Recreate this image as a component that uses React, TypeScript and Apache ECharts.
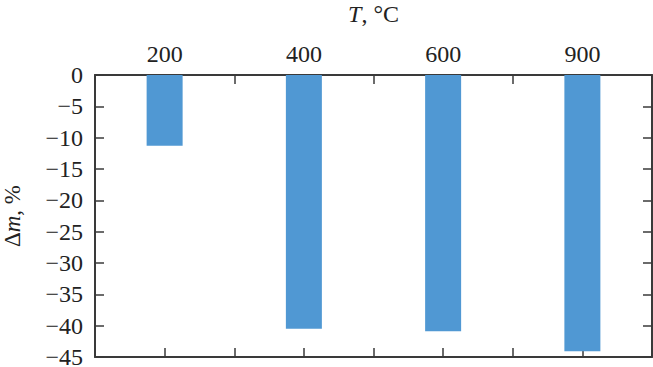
import React, { useEffect, useRef } from "react";
import * as echarts from "echarts";

const categories = ["200", "400", "600", "900"];
const massLoss = [-11.3, -40.5, -40.9, -44.1];
const yMin = -45;
const yMax = 0;
const yStep = 5;

const AXIS_COLOR = "#3a3a3a";
const FONT = "Times New Roman, Liberation Serif, serif";

export default function App() {
  const ref = useRef<HTMLDivElement>(null);
  useEffect(() => {
    if (!ref.current) return;
    const chart = echarts.init(ref.current, null, { renderer: "svg" });
    const lineStyle = { color: AXIS_COLOR, width: 2 };
    const tickStyle = { color: AXIS_COLOR, width: 1.5 };
    const catAxis = (position: string, align: boolean, showLabel: boolean, showLine: boolean, extra: any = {}) => ({
      type: "category",
      data: categories,
      position,
      boundaryGap: true,
      axisLine: { show: showLine, lineStyle },
      axisTick: { show: true, inside: true, length: 9, alignWithLabel: align, lineStyle: tickStyle },
      axisLabel: {
        show: showLabel,
        color: "#222",
        fontFamily: FONT,
        fontSize: 24,
        margin: 9,
      },
      splitLine: { show: false },
      ...extra,
    });
    const valAxis = (position: string, showLabel: boolean, extra: any = {}) => ({
      type: "value",
      position,
      min: yMin,
      max: yMax,
      interval: yStep,
      axisLine: { show: true, lineStyle },
      axisTick: { show: true, inside: true, length: 9, lineStyle: tickStyle },
      axisLabel: {
        show: showLabel,
        color: "#222",
        fontFamily: FONT,
        fontSize: 24,
        lineHeight: 18,
        margin: 12,
        formatter: (v: number) => (v < 0 ? "\u2212" + Math.abs(v) : String(v)),
      },
      splitLine: { show: false },
      ...extra,
    });
    chart.setOption({
      animation: false,
      grid: { left: 95, right: 1, top: 75, bottom: 10, containLabel: false, outerBoundsMode: "none" },
      xAxis: [
        catAxis("top", false, true, true, {
          name: "{i|T}{a|, °C}",
          nameLocation: "middle",
          nameGap: 49,
          nameTextStyle: {
            rich: {
              i: { fontFamily: FONT, fontSize: 24, fontStyle: "italic", color: "#222" },
              a: { fontFamily: FONT, fontSize: 24, color: "#222" },
            },
          },
        }),
        catAxis("top", true, false, false),
        catAxis("bottom", false, false, true),
        catAxis("bottom", true, false, false),
      ],
      yAxis: [
        valAxis("left", true, {
          name: "{a|Δ}{i|m}{a|, %}",
          nameLocation: "middle",
          nameGap: 72,
          nameRotate: 90,
          nameTextStyle: {
            rich: {
              i: { fontFamily: FONT, fontSize: 23, fontStyle: "italic", color: "#222", lineHeight: 22 },
              a: { fontFamily: FONT, fontSize: 23, color: "#222", lineHeight: 22 },
            },
          },
        }),
        valAxis("right", false),
      ],
      series: [
        {
          type: "bar",
          xAxisIndex: 0,
          yAxisIndex: 0,
          data: massLoss,
          barWidth: 36,
          itemStyle: { color: "#5098d3" },
        },
      ],
    });
    return () => chart.dispose();
  }, []);
  return <div ref={ref} style={{ width: 653, height: 367, position: "absolute", left: 0, top: 0, background: "#fff" }} />;
}
